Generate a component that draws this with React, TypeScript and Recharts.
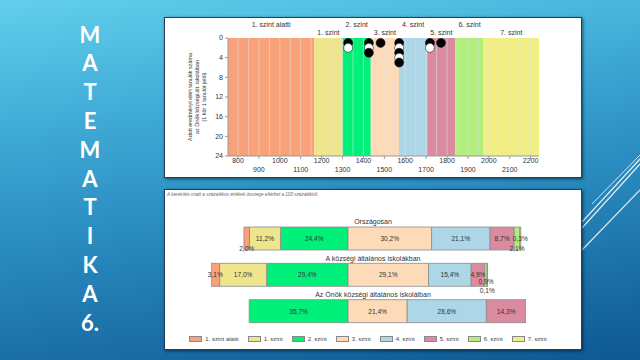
import React from 'react';
import {
  ComposedChart,
  Scatter,
  XAxis,
  YAxis,
  ReferenceArea,
  ReferenceLine,
  BarChart,
  Bar,
  LabelList,
  Legend,
} from 'recharts';

const FONT = '"Liberation Sans", Arial, sans-serif';

// ---------- data ----------
const titleLetters = ['M', 'A', 'T', 'E', 'M', 'A', 'T', 'I', 'K', 'A', '6.'];

const levelNames = ['1. szint alatti', '1. szint', '2. szint', '3. szint', '4. szint', '5. szint', '6. szint', '7. szint'];
const levelColors = ['#F9A27A', '#EEE58C', '#00F07A', '#FDDAB8', '#ADD7E6', '#DA8BA0', '#B1EE7C', '#F1EE84'];
const levelBounds = [752, 1165, 1300, 1435, 1570, 1705, 1840, 1975, 2240];

const scoreTicks = [800, 900, 1000, 1100, 1200, 1300, 1400, 1500, 1600, 1700, 1800, 1900, 2000, 2100, 2200];
const scoreGrid = [
  800, 850, 900, 950, 1000, 1050, 1100, 1150, 1200, 1250, 1300, 1350, 1400, 1450, 1500, 1550,
  1600, 1650, 1700, 1750, 1800, 1850, 1900, 1950, 2000, 2050, 2100, 2150, 2200,
];
const countTicks = [0, 4, 8, 12, 16, 20, 24];
const studentScores = [1327, 1327, 1426, 1426, 1426, 1482, 1571, 1571, 1571, 1571, 1571, 1718, 1718, 1771];
const yLabelLines = [
  'Adott eredményt elért tanulók száma',
  'az Önök községi ált. iskoláiban',
  '(1 kör 1 tanulót jelöl)',
];

const rowNames = ['Országosan', 'A községi általános iskolákban', 'Az Önök községi általános iskoláiban'];
const pctNational = [2.0, 11.2, 24.4, 30.2, 21.1, 8.7, 2.1, 0.3];
const pctVillage = [3.1, 17.0, 29.4, 29.1, 15.4, 4.9, 0.9, 0.1];
const pctYours = [0, 0, 35.7, 21.4, 28.6, 14.3, 0, 0];
const footnote = 'A kerekítés miatt a százalékos értékek összege eltérhet a 100 százaléktól.';

// ---------- derived ----------
const dotData = (() => {
  const counts: Record<number, number> = {};
  return studentScores.map((s) => {
    counts[s] = (counts[s] || 0) + 1;
    return { score: s, n: counts[s] };
  });
})();

const pctRows = [pctNational, pctVillage, pctYours];
const barData = pctRows.map((vals, r) => {
  const row: Record<string, any> = { name: rowNames[r] };
  vals.forEach((v, i) => {
    row[`l${i}`] = i < 3 ? -v : v;
  });
  return row;
});
const negMax = Math.max(...pctRows.map((v) => v[0] + v[1] + v[2]));
const posMax = Math.max(...pctRows.map((v) => v[3] + v[4] + v[5] + v[6] + v[7]));
const barOrder = [2, 1, 0, 3, 4, 5, 6, 7];

// label nudges for tiny segments (key: level-row), in px from bar middle
const labelNudge: Record<string, number> = { '0-0': 9.5, '6-0': 9.5, '6-1': 6.5, '7-1': 15.5 };

const fmt = (v: number) => `${Math.abs(v).toFixed(1).replace('.', ',')}%`;

// ---------- chart 1 pieces ----------
const YLabel = (props: any) => {
  const vb = props.viewBox || {};
  const cy = vb.y + vb.height / 2;
  const xs = [24.5, 31.8, 39];
  return (
    <g>
      {yLabelLines.map((t, i) => (
        <text
          key={i}
          x={vb.x + xs[i]}
          y={cy}
          transform={`rotate(-90 ${vb.x + xs[i]} ${cy})`}
          textAnchor="middle"
          dominantBaseline="central"
          fontSize={5.4}
          fontFamily={FONT}
          fill="#333"
        >
          {t}
        </text>
      ))}
    </g>
  );
};

const BandLabel = (props: any) => {
  const vb = props.viewBox || {};
  const idx = props.idx as number;
  const cx = vb.x + vb.width / 2;
  const y = vb.y - (idx % 2 === 0 ? 14 : 6);
  return (
    <text x={cx} y={y} textAnchor="middle" dominantBaseline="central" fontSize={7} fontFamily={FONT} fill="#333">
      {levelNames[idx]}
    </text>
  );
};

const ScoreTick = (props: any) => {
  const { x, y, payload } = props;
  const odd = (payload.value / 100) % 2 === 1;
  return (
    <text x={x} y={y + (odd ? 12.5 : 3.5)} textAnchor="middle" fontSize={7} fontFamily={FONT} fill="#333">
      {payload.value}
    </text>
  );
};

const Dot = (props: any) => {
  const { cx, cy, payload } = props;
  const black = payload.n % 2 === 1;
  return <circle cx={cx} cy={cy} r={4.5} fill={black ? '#000' : '#fff'} stroke="#000" strokeWidth={0.5} />;
};

// ---------- chart 2 pieces ----------
const RowTitle = (props: any) => {
  const { y, payload } = props;
  return (
    <text x={208} y={y - 16.5} textAnchor="middle" dominantBaseline="central" fontSize={7} fontFamily={FONT} fill="#333">
      {payload.value}
    </text>
  );
};

const makeLabel = (level: number) => (props: any) => {
  const { x, y, width, height, value, index } = props;
  if (!value) return null;
  const nudge = labelNudge[`${level}-${index}`] || 0;
  return (
    <text
      x={x + width / 2}
      y={y + height / 2 + nudge}
      textAnchor="middle"
      dominantBaseline="central"
      fontSize={6.6}
      fontFamily={FONT}
      fill="#333"
    >
      {fmt(value)}
    </text>
  );
};

const LegendContent = () => (
  <div
    style={{
      display: 'flex',
      justifyContent: 'center',
      alignItems: 'center',
      gap: 9,
      height: 20,
      fontFamily: FONT,
      fontSize: 6,
      color: '#444',
      whiteSpace: 'nowrap',
    }}
  >
    {levelNames.map((n, i) => (
      <div key={i} style={{ display: 'flex', alignItems: 'center', gap: 3 }}>
        <span
          style={{
            display: 'inline-block',
            width: 11,
            height: 4,
            background: levelColors[i],
            border: '1px solid #888',
          }}
        />
        <span>{n}</span>
      </div>
    ))}
  </div>
);

const panelStyle = (top: number): React.CSSProperties => ({
  position: 'absolute',
  left: 164,
  top: top - 1,
  width: 416,
  height: 159,
  background: '#fff',
  border: '1px solid #22405c',
  boxShadow: '1px 1px 3px rgba(0,0,0,0.55)',
});

export default function App() {
  return (
    <div
      style={{
        position: 'fixed',
        left: 0,
        top: 0,
        width: 640,
        height: 360,
        overflow: 'hidden',
        background: 'linear-gradient(172deg, #62CFEC 0%, #3FAAD6 30%, #2A8CC0 55%, #0E5892 100%)',
      }}
    >
      {/* decorative lines */}
      <svg width={640} height={360} style={{ position: 'absolute', left: 0, top: 0 }}>
        <line x1={640} y1={155} x2={592} y2={204} stroke="#fff" strokeOpacity={0.8} strokeWidth={1} />
        <line x1={640} y1={159} x2={582} y2={222} stroke="#fff" strokeOpacity={0.85} strokeWidth={1.2} />
        <line x1={640} y1={164} x2={582} y2={228} stroke="#fff" strokeOpacity={0.85} strokeWidth={1.2} />
        <line x1={640} y1={190} x2={582} y2={250} stroke="#fff" strokeOpacity={0.85} strokeWidth={1.2} />
      </svg>

      {/* vertical title */}
      <div style={{ position: 'absolute', left: 60, top: 20.6, width: 60 }}>
        {titleLetters.map((c, i) => (
          <div
            key={i}
            style={{
              height: 28.8,
              lineHeight: '28.8px',
              textAlign: 'center',
              color: '#fff',
              fontFamily: 'Lato, "DejaVu Sans", sans-serif',
              fontWeight: 700,
              fontSize: 22,
            }}
          >
            {c}
          </div>
        ))}
      </div>

      {/* panel 1 */}
      <div style={panelStyle(18)}>
        <ComposedChart width={416} height={159} margin={{ top: 20, right: 42, bottom: 0, left: 0 }}>
          {levelNames.map((n, i) => (
            <ReferenceArea
              key={n}
              x1={levelBounds[i]}
              x2={levelBounds[i + 1]}
              y1={0}
              y2={24}
              fill={levelColors[i]}
              fillOpacity={1}
              stroke="none"
              ifOverflow="visible"
              label={<BandLabel idx={i} />}
            />
          ))}
          {scoreGrid.map((g) => (
            <ReferenceLine key={g} x={g} stroke="#e2e2e2" strokeOpacity={0.55} strokeWidth={1} />
          ))}
          <XAxis
            type="number"
            dataKey="score"
            domain={[levelBounds[0], levelBounds[levelBounds.length - 1]]}
            allowDataOverflow
            ticks={scoreTicks}
            interval={0}
            height={21}
            tickSize={3}
            tickMargin={0}
            stroke="#999"
            tick={<ScoreTick />}
          />
          <XAxis
            xAxisId="top"
            orientation="top"
            type="number"
            domain={[levelBounds[0], levelBounds[levelBounds.length - 1]]}
            allowDataOverflow
            ticks={scoreGrid}
            interval={0}
            height={0}
            tickSize={2}
            tick={false}
            stroke="#999"
          />
          <YAxis
            type="number"
            dataKey="n"
            domain={[0, 24]}
            reversed
            ticks={countTicks}
            interval={0}
            width={63}
            tickSize={3}
            tickMargin={2}
            stroke="#999"
            tick={{ fontSize: 7, fontFamily: FONT, fill: '#333' }}
            label={<YLabel />}
          />
          <Scatter data={dotData} dataKey="n" shape={<Dot />} isAnimationActive={false} />
        </ComposedChart>
      </div>

      {/* panel 2 */}
      <div style={panelStyle(190)}>
        <div
          style={{
            position: 'absolute',
            left: 2,
            top: 2,
            fontFamily: FONT,
            fontSize: 4.6,
            fontStyle: 'italic',
            color: '#666',
            whiteSpace: 'nowrap',
          }}
        >
          {footnote}
        </div>
        <BarChart
          width={416}
          height={159}
          layout="vertical"
          data={barData}
          stackOffset="sign"
          barSize={23}
          margin={{ top: 30, right: 55, bottom: 0, left: 45 }}
        >
          <XAxis type="number" hide domain={[-negMax, posMax]} allowDataOverflow />
          <YAxis
            type="category"
            dataKey="name"
            width={1}
            axisLine={false}
            tickLine={false}
            interval={0}
            tick={<RowTitle />}
          />
          {barOrder.map((lv) => (
            <Bar
              key={lv}
              dataKey={`l${lv}`}
              name={levelNames[lv]}
              stackId="a"
              fill={levelColors[lv]}
              stroke="#8a8a8a"
              strokeWidth={0.8}
              isAnimationActive={false}
            >
              <LabelList dataKey={`l${lv}`} content={makeLabel(lv)} />
            </Bar>
          ))}
          <Legend verticalAlign="bottom" content={<LegendContent />} />
        </BarChart>
      </div>
    </div>
  );
}
